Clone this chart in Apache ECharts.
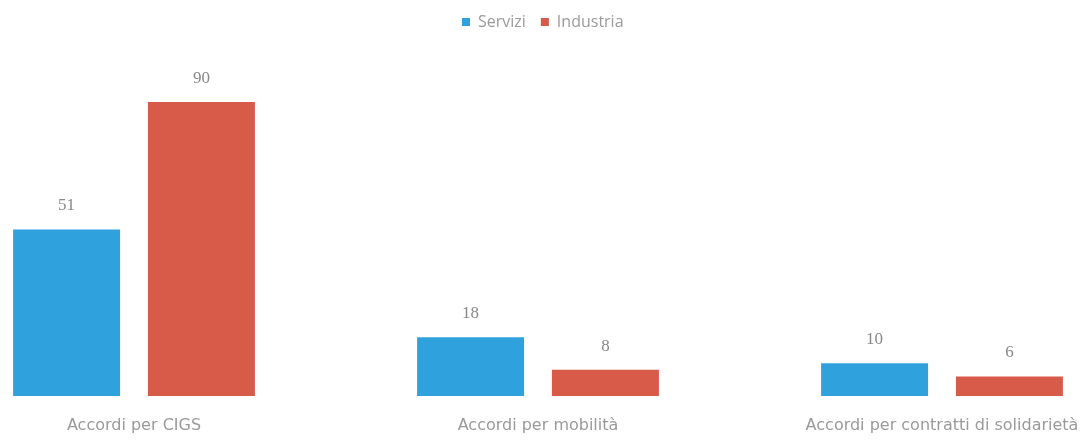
<!DOCTYPE html>
<html>
<head>
<meta charset="utf-8">
<script src="https://cdn.jsdelivr.net/npm/echarts@6/dist/echarts.min.js"></script>
<style>
  html, body { margin: 0; padding: 0; background: #fff; overflow: hidden; }
  /* chart is wider than the window so that the outer bars sit near the edges like the original */
  #chart { width: 1212px; height: 440px; margin-left: -68px; }
</style>
</head>
<body>
<div id="chart"></div>
<script>
const categories = ['Accordi per CIGS', 'Accordi per mobilità', 'Accordi per contratti di solidarietà']
const servizi = [51, 18, 10]
const industria = [90, 8, 6]

const chart = echarts.init(document.getElementById('chart'))
chart.setOption({
  backgroundColor: '#fff',
  textStyle: { fontFamily: 'DejaVu Sans' },
  legend: {
    top: 9,
    left: 525,
    itemWidth: 8,
    itemHeight: 8,
    itemGap: 15,
    icon: 'rect',
    textStyle: { color: '#9a9a9a', fontSize: 16, fontFamily: 'Open Sans', padding: [0, 0, 0, 3] },
    data: ['Servizi', 'Industria']
  },
  grid: {
    top: 102,
    bottom: 44,
    left: 0,
    right: 0
  },
  xAxis: {
    type: 'category',
    data: categories,
    axisLine: { show: false },
    axisTick: { show: false },
    axisLabel: { color: '#9a9a9a', fontSize: 16, margin: 22 }
  },
  yAxis: {
    type: 'value',
    min: 0,
    max: 90,
    show: false,
    splitLine: { show: false }
  },
  series: [
    {
      name: 'Servizi',
      type: 'bar',
      data: servizi,
      barWidth: 107,
      barGap: '26%',
      itemStyle: { color: '#2fa2de' },
      label: { show: true, position: 'top', distance: 15, color: '#888', fontSize: 17, fontFamily: 'Liberation Serif' }
    },
    {
      name: 'Industria',
      type: 'bar',
      data: industria,
      barWidth: 107,
      barGap: '26%',
      itemStyle: { color: '#d85a48' },
      label: { show: true, position: 'top', distance: 15, color: '#888', fontSize: 17, fontFamily: 'Liberation Serif' }
    }
  ]
})
</script>
</body>
</html>
